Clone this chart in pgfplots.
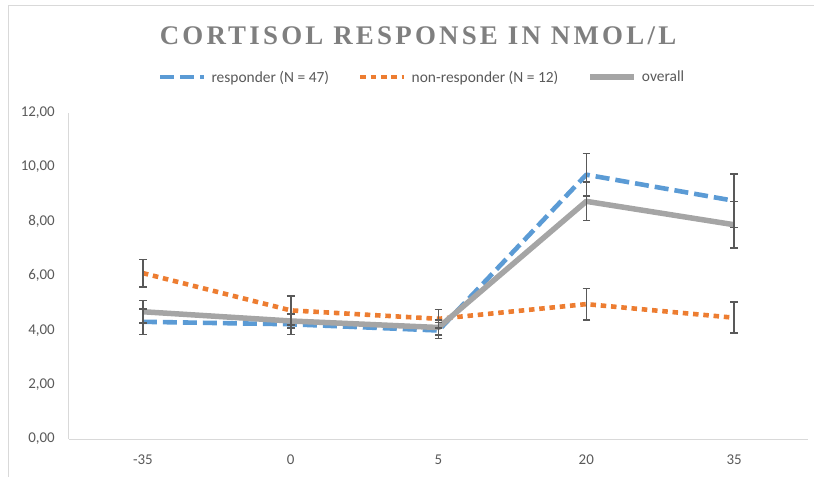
\documentclass[border=0pt]{standalone}
\usepackage{pgfplots}
\pgfplotsset{compat=1.18}
\usepackage{pgfplotstable}
\usepackage{fontspec}
\setmainfont{Carlito}
\newfontfamily\titlefont[LetterSpace=12]{Liberation Serif}
\definecolor{respblue}{HTML}{5B9BD5}
\definecolor{nonorange}{HTML}{ED7D31}
\definecolor{allgray}{HTML}{A5A5A5}
\definecolor{errgray}{HTML}{595959}
\definecolor{textgray}{HTML}{595959}
\definecolor{titlegray}{HTML}{7F7F7F}
\definecolor{axisgray}{HTML}{D9D9D9}

\pgfplotstableread{
x r re n ne o oe
0 4.31 0.47 6.10 0.50 4.68 0.41
1 4.22 0.37 4.73 0.53 4.34 0.26
2 3.99 0.29 4.42 0.34 4.10 0.27
3 9.72 0.78 4.96 0.58 8.74 0.71
4 8.76 0.98 4.46 0.57 7.88 0.85
}\data

\begin{document}
\begin{tikzpicture}
\path[use as bounding box] (-69bp,-38bp) rectangle (745bp,439bp);
\draw[axisgray, line width=1bp] (-60bp,-40bp) -- (-60bp,433bp) -- (750bp,433bp);
\begin{axis}[
  at={(0,0)}, anchor=south west,
  scale only axis, width=739bp, height=326.3bp,
  xmin=-0.5, xmax=4.5, ymin=0, ymax=12,
  xtick={0,1,2,3,4}, xticklabels={-35,0,5,20,35},
  ytick={0,2,4,6,8,10,12},
  axis x line*=bottom, axis y line*=left,
  axis line style={axisgray, line width=1bp, -},
  major tick length=0pt,
  tick label style={font=\fontsize{15}{18}\selectfont, text=textgray},
  /pgf/number format/.cd, fixed, fixed zerofill, precision=2, use comma, assume math mode=true,
  /pgfplots/.cd,
  yticklabel style={anchor=east, inner sep=0pt, xshift=-14bp},
  xticklabel style={anchor=north, inner sep=0pt, yshift=-16bp},
  clip=false,
  legend image code/.code={\draw[#1] (0bp,0bp) -- (44bp,0bp);},
  legend style={at={(axis description cs:0.477,1.109)}, anchor=center,
    draw=none, fill=none, inner sep=0pt,
    font=\fontsize{15.5}{18}\selectfont, text=textgray,
    nodes={inner sep=1bp},
    /tikz/every odd column/.append style={column sep=4bp},
    /tikz/every even column/.append style={column sep=28bp}},
  legend columns=3,
  legend cell align=left,
]
\addplot[respblue, line width=4.6bp, line cap=butt, line join=round, dash pattern=on 14bp off 6bp] table[x=x,y=r] {\data};
\addlegendentry{responder (N = 47)}
\addplot[nonorange, line width=4.6bp, line cap=butt, line join=round, dash pattern=on 5.5bp off 4.8bp] table[x=x,y=n] {\data};
\addlegendentry{non-responder (N = 12)}
\addplot[allgray, line width=5.5bp, line join=round] table[x=x,y=o] {\data};
\addlegendentry{overall}
\pgfplotsinvokeforeach{r,n,o}{
\addplot[forget plot, draw=none, mark=none,
  error bars/.cd, y dir=both, y explicit,
  error bar style={draw=errgray, line width=1.6bp, solid},
  error mark=-,
  error mark options={rotate=90, draw=errgray, line width=1.6bp, mark size=3.8bp, solid}]
  table[x=x, y=#1, y error=#1e] {\data};
}
\end{axis}
\node[anchor=base, text=titlegray, inner sep=0pt] at (349bp,394bp) {\titlefont\bfseries\fontsize{27}{30}\selectfont CORTISOL RESPONSE IN NMOL/L};
\end{tikzpicture}
\end{document}
